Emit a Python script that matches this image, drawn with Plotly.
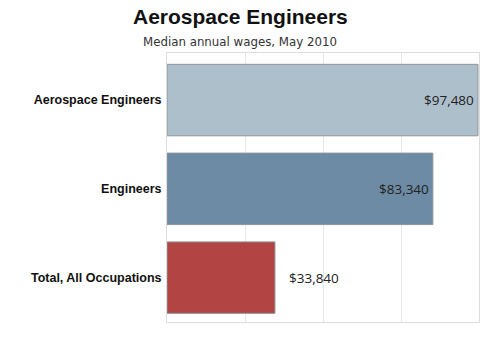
import plotly.graph_objects as go

# Median annual wages, May 2010
occupations = ["Aerospace Engineers", "Engineers", "Total, All Occupations"]
wages = [97480, 83340, 33840]
wage_labels = ["$97,480", "$83,340", "$33,840"]
bar_colors = ["#AEBFCC", "#6D8BA4", "#B24443"]
label_inside = [True, True, False]

x_max = 97800
grid_vals = [x_max * i / 4 for i in range(5)]

fig = go.Figure(
    go.Bar(
        x=wages,
        y=occupations,
        orientation="h",
        marker=dict(color=bar_colors, line=dict(color="#8E959B", width=1)),
        width=0.805,
        hoverinfo="skip",
    )
)

# value labels: inside the bar end for long bars, just past the end for short ones
for occ, val, lab, inside in zip(occupations, wages, wage_labels, label_inside):
    fig.add_annotation(
        x=val, y=occ, xref="x", yref="y", text=lab, showarrow=False,
        xanchor="right" if inside else "left",
        xshift=-2 if inside else 12,
        font=dict(family="Open Sans", size=13.5, color="#222222"),
    )

fig.add_annotation(
    x=0.234, y=1.134, xref="paper", yref="paper", text="<b>Aerospace Engineers</b>",
    showarrow=False, xanchor="center", yanchor="middle",
    font=dict(family="Liberation Sans", size=21, color="#111111"),
)
fig.add_annotation(
    x=0.234, y=1.041, xref="paper", yref="paper", text="Median annual wages, May 2010",
    showarrow=False, xanchor="center", yanchor="middle",
    font=dict(family="DejaVu Sans", size=11.8, color="#333333"),
)

fig.update_layout(
    width=500, height=341,
    margin=dict(l=167, r=21, t=53, b=19),
    paper_bgcolor="white", plot_bgcolor="white",
    showlegend=False,
    xaxis=dict(
        range=[0, x_max], tickvals=grid_vals, showticklabels=False,
        showgrid=True, gridcolor="#E6E6E6", gridwidth=1, zeroline=False,
        showline=True, mirror=True, linecolor="#DDDDDD", linewidth=1,
    ),
    yaxis=dict(
        range=[2.5, -0.53], showgrid=False, zeroline=False,
        showline=True, mirror=True, linecolor="#DDDDDD", linewidth=1,
        ticks="outside", ticklen=2, tickcolor="rgba(0,0,0,0)",
        tickfont=dict(family="Liberation Sans", size=12.5, color="#111111"),
        ticklabelstandoff=0,
    ),
    font=dict(family="Liberation Sans"),
)
fig.update_yaxes(tickprefix="<b>", ticksuffix="</b>")

fig.write_html("out.html")
